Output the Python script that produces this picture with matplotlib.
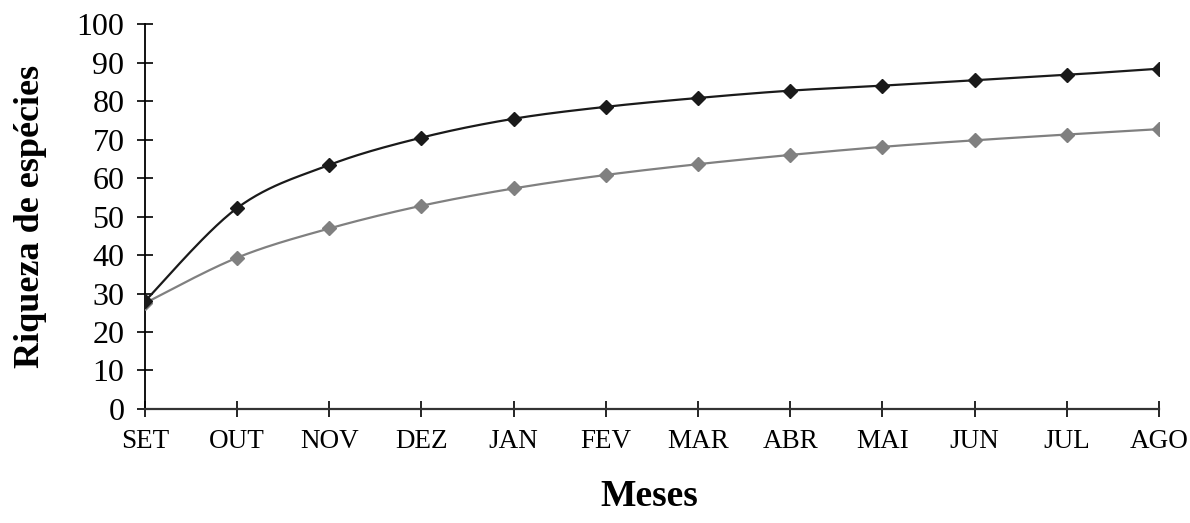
import numpy as np
import matplotlib.pyplot as plt

meses = ['SET', 'OUT', 'NOV', 'DEZ', 'JAN', 'FEV', 'MAR', 'ABR', 'MAI', 'JUN', 'JUL', 'AGO']
riqueza_preta = [28, 52.2, 63.4, 70.5, 75.4, 78.5, 80.8, 82.7, 84.0, 85.4, 86.8, 88.4]
riqueza_cinza = [27.5, 39.3, 46.9, 52.8, 57.3, 60.8, 63.6, 66.0, 68.1, 69.8, 71.3, 72.7]


def smooth_line(xs, ys, n=30):
    # Catmull-Rom curve through the points, like a smoothed spreadsheet line
    xs = np.asarray(xs, float)
    ys = np.asarray(ys, float)
    px = np.concatenate([[xs[0]], xs, [xs[-1]]])
    py = np.concatenate([[ys[0]], ys, [ys[-1]]])
    out_x, out_y = [], []
    t = np.linspace(0, 1, n)
    for i in range(1, len(px) - 2):
        b1x = px[i] + (px[i + 1] - px[i - 1]) / 6
        b1y = py[i] + (py[i + 1] - py[i - 1]) / 6
        b2x = px[i + 1] - (px[i + 2] - px[i]) / 6
        b2y = py[i + 1] - (py[i + 2] - py[i]) / 6
        cx = (1 - t) ** 3 * px[i] + 3 * (1 - t) ** 2 * t * b1x + 3 * (1 - t) * t ** 2 * b2x + t ** 3 * px[i + 1]
        cy = (1 - t) ** 3 * py[i] + 3 * (1 - t) ** 2 * t * b1y + 3 * (1 - t) * t ** 2 * b2y + t ** 3 * py[i + 1]
        out_x.extend(cx)
        out_y.extend(cy)
    return out_x, out_y


plt.rcParams['font.family'] = ['Liberation Serif', 'DejaVu Serif']

fig = plt.figure(figsize=(11.9, 5.23), dpi=100)
ax = fig.add_axes([0.1218, 0.218, 0.8521, 0.736])

x = np.arange(len(meses))
for vals, cor in [(riqueza_cinza, '#808080'), (riqueza_preta, '#1a1a1a')]:
    sx, sy = smooth_line(x, vals)
    ax.plot(sx, sy, color=cor, lw=1.6, zorder=3)
    ax.plot(x, vals, linestyle='none', marker='D', ms=7.2, color=cor, zorder=4)

ax.set_xlim(0, 11)
ax.set_ylim(0, 100)
ax.set_yticks(range(0, 101, 10))
ax.set_xticks(x)
ax.set_xticklabels(meses)
ax.tick_params(axis='y', direction='inout', length=11.5, width=1.2, labelsize=23, pad=9)
ax.tick_params(axis='x', direction='inout', length=11.5, width=1.2, labelsize=19.5, pad=9)

ax.spines['top'].set_visible(False)
ax.spines['right'].set_visible(False)
ax.spines['left'].set_linewidth(1.3)
ax.spines['bottom'].set_linewidth(1.6)
ax.spines['bottom'].set_color('#333333')

fig.text(0.026, 0.586, 'Riqueza de espécies', rotation=90, ha='center', va='center',
         fontsize=26, fontweight='bold')
fig.text(0.546, 0.05, 'Meses', ha='center', va='center', fontsize=27, fontweight='bold')

fig.savefig('out.png', dpi=100)
